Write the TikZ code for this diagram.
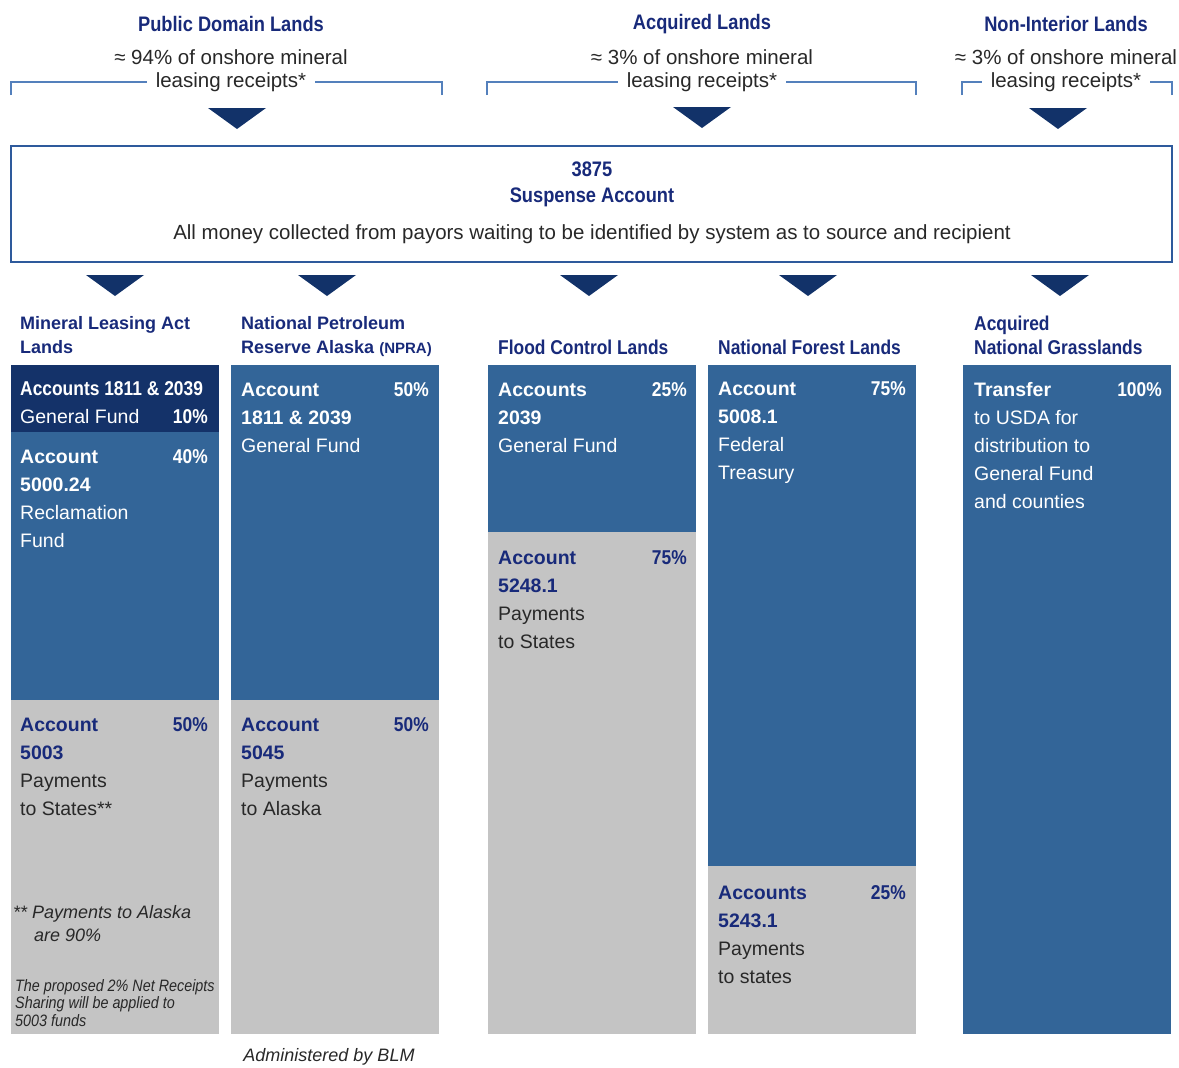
\documentclass[tikz,border=0pt]{standalone}
\usepackage{fontspec}
\setmainfont{Liberation Sans}
\newfontfamily\narrowfont{Liberation Sans}[FakeStretch=0.87]
\usepackage{tikz}

\definecolor{navy}{RGB}{24,42,122}
\definecolor{boxblue}{RGB}{51,101,152}
\definecolor{deepblue}{RGB}{20,50,105}
\definecolor{boxgray}{RGB}{196,196,196}
\definecolor{rulblue}{RGB}{84,128,188}
\definecolor{edgeblue}{RGB}{46,90,156}
\definecolor{arrowblue}{RGB}{18,50,105}
\definecolor{txtgray}{RGB}{40,40,40}

\newcommand\navybf[1]{\textcolor{navy}{\textbf{#1}}}

\tikzset{
  head/.style={inner sep=0pt, text=navy, font=\narrowfont\fontsize{21}{25}\selectfont\bfseries},
  sub/.style={inner ysep=0pt, inner xsep=9pt, text=txtgray, font=\fontsize{20.5}{24}\selectfont},
  bracket/.style={rulblue, line width=1.2pt},
  colhead/.style={anchor=north west, align=left, inner sep=0pt, text=navy},
  block/.style={anchor=north west, minimum width=208pt, inner sep=0pt, outer sep=0pt},
  txt/.style={anchor=north west, align=left, inner sep=0pt, text=txtgray, font=\fontsize{19.5}{28}\selectfont},
  pct/.style={anchor=north east, inner sep=0pt, font=\narrowfont\fontsize{20}{28}\selectfont\bfseries},
}

\begin{document}
\begin{tikzpicture}[x=1pt,y=-1pt]
\useasboundingbox (0,0) rectangle (1179,1068);

% Source lands and their share of the receipts
\foreach \nm/\cx/\ttl/\pc in {pdl/231/Public Domain Lands/94,
                               acq/702/Acquired Lands/3,
                               nil/1066/Non-Interior Lands/3} {
  \node [head] (\nm) at (\cx,24) {\ttl};
  \node [sub] (\nm-a) at (\cx,57) {≈ \pc\% of onshore mineral};
  \node [sub] (\nm-b) at (\cx,82) {leasing receipts*};
}

% Brackets under the receipts
\foreach \nm/\l/\r in {pdl/11/442, acq/487/916, nil/962/1172} {
  \draw [bracket] (\l,95) |- (\nm-b.west);
  \draw [bracket] (\r,95) |- (\nm-b.east);
}

% Down pointers
\foreach \cx/\ty in {237/108, 702/107, 1058/108,
                     115/275, 327/275, 589/275, 808/275, 1060/275} {
  \fill [arrowblue] (\cx-29,\ty) -- (\cx+29,\ty) -- (\cx,\ty+21) -- cycle;
}

% Suspense account
\node [draw=edgeblue, line width=2pt, minimum width=1161pt, minimum height=116pt, inner sep=0pt] (susp) at (591.5,204) {};
\node [head] (susp-no) at (592,169) {3875};
\node [head] (susp-nm) at (592,197) {Suspense Account};
\node [sub] (susp-tx) at (592,234) {All money collected from payors waiting to be identified by system as to source and recipient};

% Column headings
\node [colhead, font=\fontsize{18}{24}\selectfont\bfseries] (mla) at (20,316) {Mineral Leasing Act\\Lands};
\node [colhead, font=\fontsize{18}{24}\selectfont\bfseries] (npra) at (241,316) {National Petroleum\\Reserve Alaska {\fontsize{15}{24}\selectfont(NPRA)}};
\node [colhead, font=\narrowfont\fontsize{20}{24}\selectfont\bfseries] (flood) at (498,339.5) {Flood Control Lands};
\node [colhead, font=\narrowfont\fontsize{20}{24}\selectfont\bfseries] (forest) at (718,339.5) {National Forest Lands};
\node [colhead, font=\narrowfont\fontsize{20}{24}\selectfont\bfseries] (grass) at (974,315.5) {Acquired\\National Grasslands};

% Mineral Leasing Act Lands
\node [block, fill=deepblue, minimum height=67pt] (mla-gf) at (11,365) {};
\node [block, fill=boxblue, minimum height=268pt] (mla-rf) at (11,432) {};
\node [block, fill=boxgray, minimum height=334pt] (mla-st) at (11,700) {};
\node [txt, text=white] (mla-gf-t) at (20,381.5) {{\narrowfont\fontsize{20}{28}\selectfont\textbf{Accounts 1811 \& 2039}}\\General Fund};
\node [pct, text=white] (mla-gf-p) at (208,409.5) {10\%};
\node [txt, text=white] (mla-rf-t) at (20,449.5) {\textbf{Account}\\\textbf{5000.24}\\Reclamation\\Fund};
\node [pct, text=white] (mla-rf-p) at (208,449.5) {40\%};
\node [txt] (mla-st-t) at (20,717.5) {\navybf{Account}\\\navybf{5003}\\Payments\\to States**};
\node [pct, text=navy] (mla-st-p) at (208,717.5) {50\%};
\node [txt, font=\fontsize{18}{23}\selectfont\itshape] (mla-note) at (13,905.5) {** Payments to Alaska\\\hspace{21pt}are 90\%};
\node [txt, font=\narrowfont\fontsize{16.5}{17.5}\selectfont\itshape] (mla-prop) at (15,979) {The proposed 2\% Net Receipts\\Sharing will be applied to\\5003 funds};

% National Petroleum Reserve Alaska
\node [block, fill=boxblue, minimum height=335pt] (npra-gf) at (231,365) {};
\node [block, fill=boxgray, minimum height=334pt] (npra-ak) at (231,700) {};
\node [txt, text=white] (npra-gf-t) at (241,382.5) {\textbf{Account}\\\textbf{1811 \& 2039}\\General Fund};
\node [pct, text=white] (npra-gf-p) at (429,382.5) {50\%};
\node [txt] (npra-ak-t) at (241,717.5) {\navybf{Account}\\\navybf{5045}\\Payments\\to Alaska};
\node [pct, text=navy] (npra-ak-p) at (429,717.5) {50\%};
\node [font=\fontsize{18}{22}\selectfont\itshape, text=txtgray, inner sep=0pt] (blm) at (329,1057) {Administered by BLM};

% Flood Control Lands
\node [block, fill=boxblue, minimum height=167pt] (flood-gf) at (488,365) {};
\node [block, fill=boxgray, minimum height=502pt] (flood-st) at (488,532) {};
\node [txt, text=white] (flood-gf-t) at (498,382.5) {\textbf{Accounts}\\\textbf{2039}\\General Fund};
\node [pct, text=white] (flood-gf-p) at (687,382.5) {25\%};
\node [txt] (flood-st-t) at (498,550.5) {\navybf{Account}\\\navybf{5248.1}\\Payments\\to States};
\node [pct, text=navy] (flood-st-p) at (687,550.5) {75\%};

% National Forest Lands
\node [block, fill=boxblue, minimum height=501pt] (forest-tr) at (708,365) {};
\node [block, fill=boxgray, minimum height=168pt] (forest-st) at (708,866) {};
\node [txt, text=white] (forest-tr-t) at (718,381.5) {\textbf{Account}\\\textbf{5008.1}\\Federal\\Treasury};
\node [pct, text=white] (forest-tr-p) at (906,381.5) {75\%};
\node [txt] (forest-st-t) at (718,885.5) {\navybf{Accounts}\\\navybf{5243.1}\\Payments\\to states};
\node [pct, text=navy] (forest-st-p) at (906,885.5) {25\%};

% Acquired National Grasslands
\node [block, fill=boxblue, minimum height=669pt] (grass-us) at (963,365) {};
\node [txt, text=white] (grass-us-t) at (974,382.5) {\textbf{Transfer}\\to USDA for\\distribution to\\General Fund\\and counties};
\node [pct, text=white] (grass-us-p) at (1162,382.5) {100\%};

\end{tikzpicture}
\end{document}
